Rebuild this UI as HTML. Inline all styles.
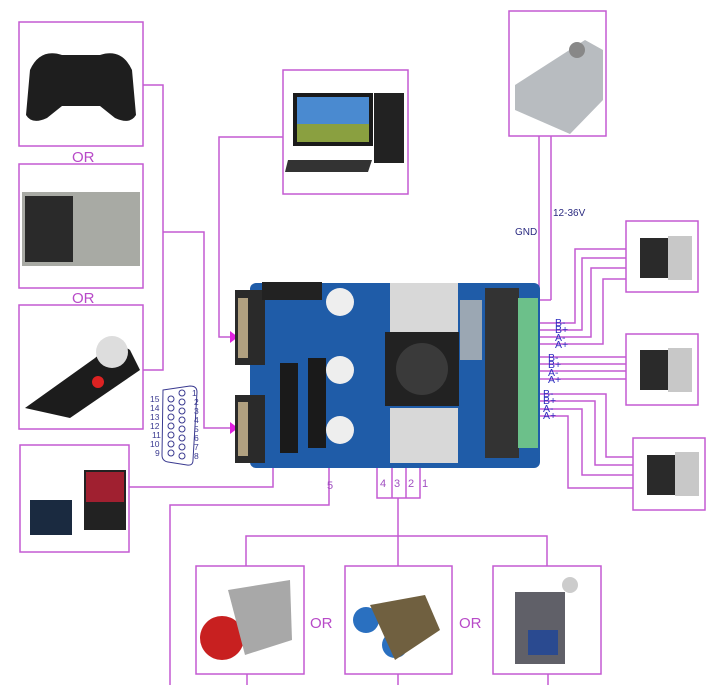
<!DOCTYPE html>
<html><head><meta charset="utf-8"><style>
html,body{margin:0;padding:0;background:#fff;width:724px;height:685px;overflow:hidden}
svg{display:block}
text{font-family:"Liberation Sans",sans-serif}
</style></head><body>
<svg width="724" height="685" viewBox="0 0 724 685" xmlns="http://www.w3.org/2000/svg">
<g fill="none" stroke="#c45ad2" stroke-width="1.5">
<rect x="19" y="22" width="124" height="124"/>
<rect x="19" y="164" width="124" height="124"/>
<rect x="19" y="305" width="124" height="124"/>
<rect x="20" y="445" width="109" height="107"/>
<rect x="283" y="70" width="125" height="124"/>
<rect x="509" y="11" width="97" height="125"/>
<rect x="626" y="221" width="72" height="71"/>
<rect x="626" y="334" width="72" height="71"/>
<rect x="633" y="438" width="72" height="72"/>
<rect x="196" y="566" width="108" height="108"/>
<rect x="345" y="566" width="107" height="108"/>
<rect x="493" y="566" width="108" height="108"/>
<polyline points="143,85 163,85 163,370 143,370"/>
<polyline points="163,232 204,232 204,428 232,428"/>
<polyline points="283,137 219,137 219,337 232,337"/>
<polyline points="129,487 273,487 273,452"/>
<polyline points="329,450 329,505 170,505 170,685"/>
<rect x="377" y="460" width="43" height="38"/>
<line x1="392" y1="460" x2="392" y2="498"/><line x1="406" y1="460" x2="406" y2="498"/>
<line x1="398" y1="498" x2="398" y2="566"/>
<polyline points="246,566 246,536 547,536 547,566"/>
<line x1="247" y1="674" x2="247" y2="685"/><line x1="398" y1="674" x2="398" y2="685"/><line x1="548" y1="674" x2="548" y2="685"/>
<line x1="539" y1="136" x2="539" y2="304"/>
<line x1="551" y1="136" x2="551" y2="300"/><line x1="551" y1="300" x2="538" y2="300"/>
<polyline points="538,323 575,323 575,249 626,249"/>
<polyline points="538,330 582,330 582,258 626,258"/>
<polyline points="538,337 591,337 591,268 626,268"/>
<polyline points="538,344 603,344 603,279 626,279"/>
<line x1="538" y1="357" x2="626" y2="357"/><line x1="538" y1="364" x2="626" y2="364"/>
<line x1="538" y1="371" x2="626" y2="371"/><line x1="538" y1="379" x2="626" y2="379"/>
<polyline points="538,394 606,394 606,457 633,457"/>
<polyline points="538,401 595,401 595,465 633,465"/>
<polyline points="538,409 582,409 582,475 633,475"/>
<polyline points="538,416 568,416 568,488 633,488"/>
<line x1="303" y1="448" x2="420" y2="448"/><line x1="303" y1="452" x2="406" y2="452"/>
<line x1="303" y1="456" x2="392" y2="456"/><line x1="303" y1="460" x2="377" y2="460"/>
<line x1="420" y1="448" x2="420" y2="460"/>
</g>
<polygon points="230,331 238,337 230,343" fill="#e020e0"/>
<polygon points="230,422 238,428 230,434" fill="#e020e0"/>
<g fill="#b84ac8" font-size="15">
<text x="72" y="162">OR</text><text x="72" y="303">OR</text>
<text x="310" y="628">OR</text><text x="459" y="628">OR</text>
</g>
<g fill="#a050c0" font-size="11"><text x="380" y="487">4</text><text x="394" y="487">3</text><text x="408" y="487">2</text><text x="422" y="487">1</text><text x="327" y="489">5</text></g>
<g fill="#2a2a80" font-size="10"><text x="515" y="235">GND</text><text x="553" y="216">12-36V</text></g>
<g fill="#3030c0" font-size="10.5">
<text x="555" y="326">B-</text><text x="555" y="333">B+</text><text x="555" y="341">A-</text><text x="555" y="348">A+</text>
<text x="548" y="361">B-</text><text x="548" y="368">B+</text><text x="548" y="376">A-</text><text x="548" y="383">A+</text>
<text x="543" y="397">B-</text><text x="543" y="404">B+</text><text x="543" y="412">A-</text><text x="543" y="419">A+</text>
</g>
<path d="M163,390 L190,386 Q197,386 197,392 L193,460 Q193,466 187,465 L168,462 Q162,461 162,455 Z" fill="none" stroke="#3a3a90" stroke-width="1"/>
<g fill="none" stroke="#3a3a90" stroke-width="1">
<circle cx="182" cy="393" r="3"/><circle cx="182" cy="402" r="3"/><circle cx="182" cy="411" r="3"/><circle cx="182" cy="420" r="3"/><circle cx="182" cy="429" r="3"/><circle cx="182" cy="438" r="3"/><circle cx="182" cy="447" r="3"/><circle cx="182" cy="456" r="3"/>
<circle cx="171" cy="399" r="3"/><circle cx="171" cy="408" r="3"/><circle cx="171" cy="417" r="3"/><circle cx="171" cy="426" r="3"/><circle cx="171" cy="435" r="3"/><circle cx="171" cy="444" r="3"/><circle cx="171" cy="453" r="3"/>
</g>
<g fill="#3a3a90" font-size="8.5">
<text x="192" y="396">1</text><text x="194" y="405">2</text><text x="194" y="414">3</text><text x="194" y="423">4</text><text x="194" y="432">5</text><text x="194" y="441">6</text><text x="194" y="450">7</text><text x="194" y="459">8</text>
<text x="150" y="402">15</text><text x="150" y="411">14</text><text x="150" y="420">13</text><text x="150" y="429">12</text><text x="152" y="438">11</text><text x="150" y="447">10</text><text x="155" y="456">9</text>
</g>
<rect x="250" y="283" width="290" height="185" rx="6" fill="#1f5ca8"/>
<rect x="235" y="290" width="30" height="75" fill="#2a2a2a"/><rect x="238" y="298" width="10" height="60" fill="#b0a080"/>
<rect x="235" y="395" width="30" height="68" fill="#2a2a2a"/><rect x="238" y="402" width="10" height="54" fill="#b0a080"/>
<rect x="262" y="282" width="60" height="18" fill="#222"/>
<rect x="280" y="363" width="18" height="90" fill="#1a1a1a"/><rect x="308" y="358" width="18" height="90" fill="#1a1a1a"/>
<circle cx="340" cy="302" r="14" fill="#eee"/><circle cx="340" cy="370" r="14" fill="#eee"/><circle cx="340" cy="430" r="14" fill="#eee"/>
<rect x="390" y="283" width="68" height="55" fill="#d8d8d8"/>
<rect x="390" y="408" width="68" height="55" fill="#d8d8d8"/>
<rect x="385" y="332" width="74" height="74" fill="#222"/><circle cx="422" cy="369" r="26" fill="#3a3a3a"/>
<rect x="485" y="288" width="34" height="170" fill="#333"/>
<rect x="518" y="298" width="20" height="150" fill="#6cc08a"/>
<rect x="460" y="300" width="22" height="60" fill="#d0c8b8" opacity="0.7"/>
<path d="M30,70 Q40,48 62,55 L100,55 Q122,48 132,70 L136,115 Q130,125 115,118 L100,106 L62,106 L47,118 Q32,125 26,115 Z" fill="#1e1e1e"/>
<rect x="22" y="192" width="118" height="74" fill="#a8aaa4"/><rect x="25" y="196" width="48" height="66" fill="#2a2a2a"/>
<path d="M25,408 L95,358 Q115,340 130,350 L140,370 L70,418 Z" fill="#1c1c1c"/><circle cx="112" cy="352" r="16" fill="#ddd"/><circle cx="98" cy="382" r="6" fill="#d22"/>
<rect x="30" y="500" width="42" height="35" fill="#1a2a40"/><rect x="84" y="470" width="42" height="60" fill="#222"/><rect x="86" y="472" width="38" height="30" fill="#a02030"/>
<rect x="293" y="93" width="80" height="53" fill="#1a1a1a"/><rect x="297" y="97" width="72" height="45" fill="#4a8ad0"/><rect x="297" y="124" width="72" height="18" fill="#8aa040"/>
<rect x="374" y="93" width="30" height="70" fill="#222"/><path d="M288,160 L372,160 L368,172 L285,172 Z" fill="#333"/>
<path d="M515,85 L585,40 L603,50 L603,100 L570,134 L515,110 Z" fill="#b8bcc0"/>
<circle cx="577" cy="50" r="8" fill="#888"/>
<g fill="#2a2a2a"><rect x="640" y="238" width="30" height="40"/><rect x="640" y="350" width="30" height="40"/><rect x="647" y="455" width="30" height="40"/></g>
<g fill="#c8c8c8"><rect x="668" y="236" width="24" height="44"/><rect x="668" y="348" width="24" height="44"/><rect x="675" y="452" width="24" height="44"/></g>
<circle cx="222" cy="638" r="22" fill="#c82020"/><path d="M228,590 L290,580 L292,640 L245,655 Z" fill="#a8a8a8"/>
<circle cx="366" cy="620" r="13" fill="#2a70c0"/><circle cx="395" cy="645" r="13" fill="#2a70c0"/><path d="M370,605 L425,595 L440,630 L395,660 Z" fill="#706040"/>
<rect x="515" y="592" width="50" height="72" fill="#606068"/><circle cx="570" cy="585" r="8" fill="#ccc"/><rect x="528" y="630" width="30" height="25" fill="#2a4a90"/>
</svg>
</body></html>
